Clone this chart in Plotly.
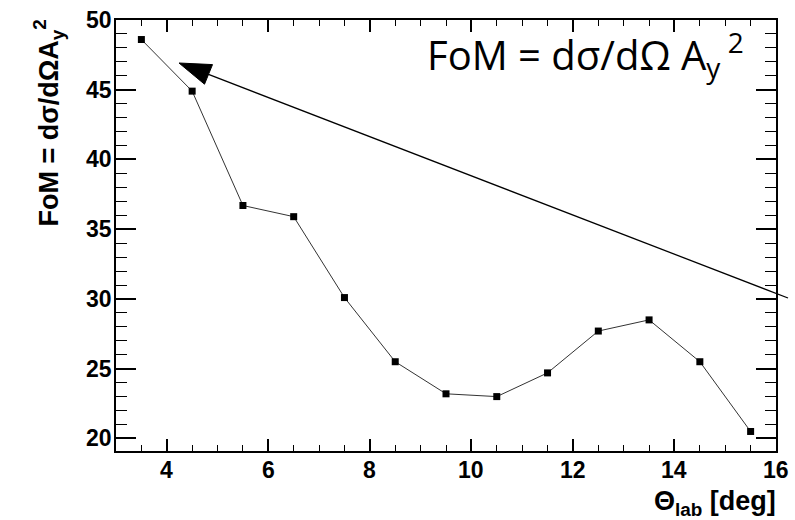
import plotly.graph_objects as go

# ---- data ----
theta_lab = [3.5, 4.5, 5.5, 6.5, 7.5, 8.5, 9.5, 10.5, 11.5, 12.5, 13.5, 14.5, 15.5]
fom = [48.6, 44.9, 36.7, 35.9, 30.1, 25.5, 23.2, 23.0, 24.7, 27.7, 28.5, 25.5, 20.5]

x_range = [3, 16]
y_range = [19.1, 50]
x_ticks = [4, 6, 8, 10, 12, 14, 16]
y_ticks = [20, 25, 30, 35, 40, 45, 50]

# ---- layout geometry (pixels) ----
W, H = 795, 520
ML, MR, MT, MB = 116, 19, 20, 69
PW, PH = W - ML - MR, H - MT - MB


def px(xp):
    return (xp - ML) / PW


def py(yp):
    return (H - MB - yp) / PH


fig = go.Figure()
fig.add_trace(go.Scatter(
    x=theta_lab, y=fom, mode="lines+markers",
    line=dict(color="#333333", width=1),
    marker=dict(symbol="square", size=7, color="black"),
    showlegend=False, cliponaxis=False,
))

common = dict(showgrid=False, zeroline=False, showline=True, linecolor="black", linewidth=1.5,
              ticks="inside", tickwidth=1.5, tickcolor="black", showticklabels=False)

fig.update_layout(
    xaxis=dict(range=x_range, tickvals=x_ticks, ticklen=12,
               minor=dict(dtick=0.5, tick0=0, ticks="inside", ticklen=6, tickwidth=1.2,
                          tickcolor="black", showgrid=False),
               **common),
    xaxis2=dict(range=x_range, tickvals=x_ticks, overlaying="x", side="top",
                ticklen=12, matches="x",
                minor=dict(dtick=0.5, tick0=0, ticks="inside", ticklen=6, tickwidth=1.2,
                           tickcolor="black", showgrid=False),
                **common),
    yaxis=dict(range=y_range, tickvals=y_ticks, ticklen=20,
               minor=dict(dtick=1, tick0=0, ticks="inside", ticklen=11, tickwidth=1.2,
                          tickcolor="black", showgrid=False),
               **common),
    yaxis2=dict(range=y_range, tickvals=y_ticks, overlaying="y", side="right",
                ticklen=20, matches="y",
                minor=dict(dtick=1, tick0=0, ticks="inside", ticklen=11, tickwidth=1.2,
                           tickcolor="black", showgrid=False),
                **common),
)
# invisible trace to activate the mirrored axes
fig.add_trace(go.Scatter(x=[theta_lab[0]], y=[fom[0]], xaxis="x2", yaxis="y2", mode="markers",
                         marker=dict(opacity=0), showlegend=False, hoverinfo="skip"))

# arrow (pixel geometry of the overlay)
tail = (788, 298)
tip = (179, 63)
base_c = (208.5, 74.4)
c1 = (212.5, 64.6)
c2 = (204.5, 84.2)

shapes = [
    dict(type="line", xref="paper", yref="paper",
         x0=px(tail[0]), y0=py(tail[1]), x1=px(base_c[0]), y1=py(base_c[1]),
         line=dict(color="black", width=1.3)),
    dict(type="path", xref="paper", yref="paper",
         path=f"M{px(tip[0])},{py(tip[1])} L{px(c1[0])},{py(c1[1])} L{px(c2[0])},{py(c2[1])} Z",
         fillcolor="black", line=dict(color="black", width=1)),
]

titlefont = dict(family="Liberation Sans", size=27, color="black", weight=700)
tickfont = dict(family="Liberation Sans", size=23, color="black", weight=700)

annotations = [
    dict(text="FoM = dσ/dΩ A<sub>y</sub><sup> 2</sup>", xref="paper", yref="paper",
         x=px(746), y=py(54), xanchor="right", yanchor="middle", showarrow=False,
         font=dict(family="Open Sans", size=40, color="black")),
    dict(text="<b>FoM = dσ/dΩA<sub>y</sub><sup>2</sup></b>", xref="paper", yref="paper",
         x=px(48), y=py(18), xanchor="center", yanchor="top", textangle=-90, showarrow=False,
         font=titlefont),
    dict(text="<b>Θ<sub>lab</sub> [deg]</b>", xref="paper", yref="paper",
         x=px(778), y=py(484), xanchor="right", yanchor="top", showarrow=False,
         font=titlefont),
]
for v in x_ticks:
    annotations.append(dict(text=f"<b>{v}</b>", xref="x", yref="paper", x=v, y=py(470),
                            xanchor="center", yanchor="middle", showarrow=False, font=tickfont))
for v in y_ticks:
    annotations.append(dict(text=f"<b>{v}</b>", xref="paper", yref="y", x=px(114), y=v,
                            xanchor="right", yanchor="middle", showarrow=False, font=tickfont))

fig.update_layout(
    width=W, height=H, margin=dict(l=ML, r=MR, t=MT, b=MB),
    paper_bgcolor="white", plot_bgcolor="white",
    shapes=shapes, annotations=annotations,
)

fig.write_html("out.html")
